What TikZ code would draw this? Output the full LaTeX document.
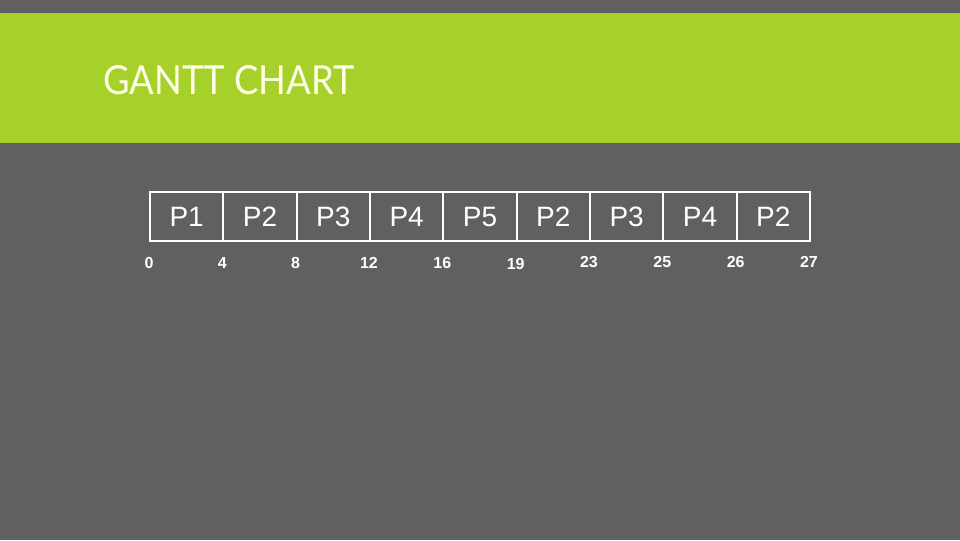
\documentclass[tikz,border=0pt]{standalone}
\usepackage{fontspec}
\setmainfont{Liberation Sans}
\newfontfamily\titlefont{Lato}
\usetikzlibrary{positioning}
\definecolor{slidegray}{HTML}{606060}
\definecolor{slidegreen}{HTML}{A6D02A}
\definecolor{titlecream}{HTML}{FFFFE8}

\begin{document}
\begin{tikzpicture}[x=0.75pt,y=-0.75pt,
    slot/.style={draw=white, line width=1.5pt, minimum width=55pt, minimum height=36.75pt,
      inner sep=0pt, outer sep=0pt, text=white, font=\fontsize{21}{24}\selectfont},
    tick/.style={text=white, inner sep=0pt, font=\bfseries\fontsize{12}{14}\selectfont}]
    \useasboundingbox (0,0) rectangle (960,540);

    % Slide background
    \fill[slidegray] (0,0) rectangle (960,540);
    \fill[slidegreen] (0,13) rectangle (960,143);
    \node[anchor=west, inner sep=0pt, xscale=0.91, text=titlecream, font=\titlefont\fontsize{30}{34}\selectfont]
      (title) at (103,80) {GANTT CHART};

    % Time slots
    \foreach \i/\lbl in {1/P1,2/P2,3/P3,4/P4,5/P5,6/P2,7/P3,8/P4,9/P2}
      \node[slot] (b\i) at ({150+(\i-0.5)*73.33},216.5) {\lbl};

    % Time marks
    \foreach \k/\t/\y in {0/0/263,1/4/263,2/8/263,3/12/263,4/16/263,5/19/264,6/23/262,7/25/262,8/26/262,9/27/262}
      \node[tick] (t\k) at ({149+\k*73.33},\y) {\t};
\end{tikzpicture}
\end{document}
